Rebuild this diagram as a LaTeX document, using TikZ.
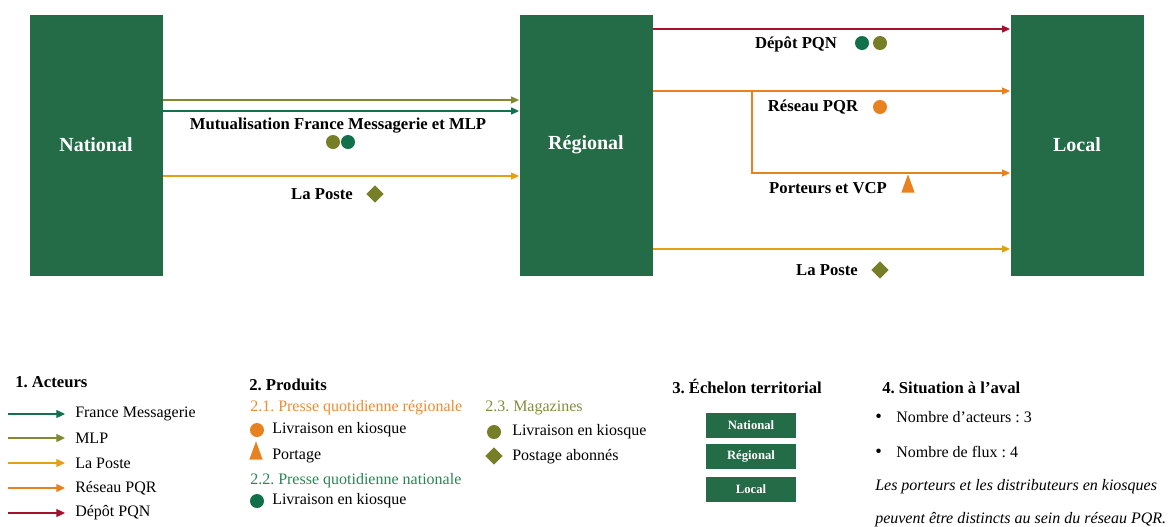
\documentclass[tikz,border=0pt]{standalone}
\usepackage{fontspec}
\setmainfont{Liberation Serif}
\usetikzlibrary{arrows.meta,positioning,shapes.geometric}

\definecolor{boxgreen}{RGB}{36,107,72}
\definecolor{fmgreen}{RGB}{18,112,74}
\definecolor{mlpolive}{RGB}{128,136,48}
\definecolor{olivedk}{RGB}{118,126,40}
\definecolor{poste}{RGB}{226,160,20}
\definecolor{pqr}{RGB}{232,130,32}
\definecolor{pqn}{RGB}{162,18,48}
\definecolor{hdgreen}{RGB}{40,134,84}
\definecolor{hdorange}{RGB}{234,140,52}
\definecolor{hdolive}{RGB}{132,142,60}

\begin{document}
\frenchspacing
\begin{tikzpicture}[
    x=0.75pt, y=-0.75pt,
    font=\fontsize{12}{14}\selectfont,
    lvl/.style={fill=boxgreen, text=white, font=\bfseries\fontsize{15}{18}\selectfont, minimum width=99.75pt, minimum height=195.75pt, inner sep=0pt},
    minilvl/.style={fill=boxgreen, text=white, font=\bfseries\fontsize{9.5}{11}\selectfont, minimum width=67.5pt, minimum height=18.75pt, inner sep=0pt},
    flow/.style={-{Triangle[length=6pt,width=5pt]}, line width=1.3pt},
    legflow/.style={-{Triangle[length=6.5pt,width=6pt]}, line width=0.9pt},
    lbl/.style={font=\bfseries\fontsize{12.5}{15}\selectfont, inner sep=0pt},
    hd/.style={font=\bfseries\fontsize{12.5}{15}\selectfont, anchor=west, inner sep=0pt},
    leg/.style={anchor=west, inner sep=0pt},
    dot/.style={circle, fill=#1, minimum size=10.5pt, inner sep=0pt},
    losange/.style={diamond, fill=olivedk, minimum size=13pt, inner sep=0pt},
    tri/.style={isosceles triangle, isosceles triangle apex angle=40, shape border rotate=90, fill=pqr, minimum size=10pt, inner sep=0pt},
  ]
    \useasboundingbox (0,0) rectangle (1168,526);

    % Echelons
    \node[lvl] (nat) at (96,145) {National};
    \node[lvl] (reg) at (586,145) {Régional};
    \node[lvl] (loc) at (1077,145) {Local};

    % National -> Regional
    \draw[flow, mlpolive] (nat.east |- 0,100) -- (reg.west |- 0,100);
    \draw[flow, fmgreen] (nat.east |- 0,111) -- (reg.west |- 0,111);
    \draw[flow, poste] (nat.east |- 0,176) -- (reg.west |- 0,176);
    \node[lbl] (mutu) at (338,126) {Mutualisation France Messagerie et MLP};
    \node[dot=olivedk] (mutu1) at (333,142) {};
    \node[dot=fmgreen] (mutu2) at (348,142) {};
    \node[lbl] (poste1) at (322,194) {La Poste};
    \node[losange] (poste1m) at (375,194) {};

    % Regional -> Local
    \draw[flow, pqn] (reg.east |- 0,29) -- (loc.west |- 0,29);
    \draw[flow, pqr] (reg.east |- 0,91) -- (loc.west |- 0,91);
    \coordinate (split) at (752,91);
    \draw[flow, pqr] (split) |- (loc.west |- 0,173);
    \draw[flow, poste] (reg.east |- 0,249) -- (loc.west |- 0,249);
    \node[lbl] (depot) at (796,44) {Dépôt PQN};
    \node[dot=fmgreen] (depot1) at (862,43) {};
    \node[dot=olivedk] (depot2) at (880,43) {};
    \node[lbl] (reseau) at (813,107) {Réseau PQR};
    \node[dot=pqr] (reseau1) at (880,107) {};
    \node[lbl] (porteurs) at (828,188) {Porteurs et VCP};
    \node[tri] (porteurs1) at (908,188) {};
    \node[lbl] (poste2) at (827,270) {La Poste};
    \node[losange] (poste2m) at (880,270) {};

    % 1. Acteurs
    \node[hd] (h1) at (15,382) {1. Acteurs};
    \node[leg] (lfm) at (75,414) {France Messagerie};
    \node[leg] (lmlp) at (75,438) {MLP};
    \node[leg] (lpos) at (75,463) {La Poste};
    \node[leg] (lpqr) at (75,488) {Réseau PQR};
    \node[leg] (lpqn) at (75,513) {Dépôt PQN};
    \coordinate (sfm) at (8,414);
    \coordinate (smlp) at (8,438);
    \coordinate (spos) at (8,463);
    \coordinate (spqr) at (8,488);
    \coordinate (spqn) at (8,513);
    \draw[legflow, fmgreen] (sfm) -- ([xshift=-7.5pt]lfm.west);
    \draw[legflow, mlpolive] (smlp) -- ([xshift=-7.5pt]lmlp.west);
    \draw[legflow, poste] (spos) -- ([xshift=-7.5pt]lpos.west);
    \draw[legflow, pqr] (spqr) -- ([xshift=-7.5pt]lpqr.west);
    \draw[legflow, pqn] (spqn) -- ([xshift=-7.5pt]lpqn.west);

    % 2. Produits
    \node[hd] (h2) at (249,385) {2. Produits};
    \node[leg, text=hdorange] (h21) at (250,408) {2.1. Presse quotidienne régionale};
    \node[dot=pqr] (p1) at (257,430) {};
    \node[leg] (t1) at (272,430) {Livraison en kiosque};
    \node[tri] (p2) at (256,455) {};
    \node[leg] (t2) at (272,456) {Portage};
    \node[leg, text=hdgreen] (h22) at (250,481) {2.2. Presse quotidienne nationale};
    \node[dot=fmgreen] (p3) at (257,501) {};
    \node[leg] (t3) at (272,501) {Livraison en kiosque};
    \node[leg, text=hdolive] (h23) at (485,408) {2.3. Magazines};
    \node[dot=olivedk] (p4) at (494,432) {};
    \node[leg] (t4) at (512,432) {Livraison en kiosque};
    \node[losange] (p5) at (494,456) {};
    \node[leg] (t5) at (512,457) {Postage abonnés};

    % 3. Echelon territorial
    \node[hd] (h3) at (672,386) {3. Échelon territorial};
    \node[minilvl] (mnat) at (751,425) {National};
    \node[minilvl] (mreg) at (751,456) {Régional};
    \node[minilvl] (mloc) at (751,489) {Local};

    % 4. Situation a l'aval
    \node[hd] (h4) at (882,388) {4. Situation à l’aval};
    \node[leg, font=\fontsize{14}{14}\selectfont] (b1) at (875,418) {•};
    \node[leg] (s1) at (896,417) {Nombre d'acteurs : 3};
    \node[leg, font=\fontsize{14}{14}\selectfont] (b2) at (875,453) {•};
    \node[leg] (s2) at (896,452) {Nombre de flux : 4};
    \node[leg, font=\itshape\fontsize{12}{14}\selectfont] (n1) at (875,487) {Les porteurs et les distributeurs en kiosques};
    \node[leg, font=\itshape\fontsize{12}{14}\selectfont] (n2) at (875,520) {peuvent être distincts au sein du réseau PQR.};
\end{tikzpicture}
\end{document}
